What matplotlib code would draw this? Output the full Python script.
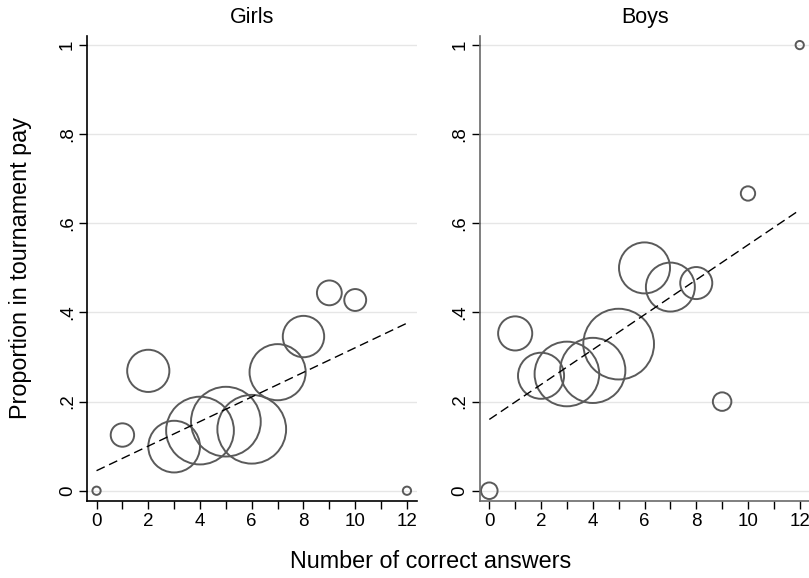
import matplotlib
matplotlib.use("Agg")
import matplotlib.pyplot as plt
import numpy as np

plt.rcParams["font.family"] = ["Liberation Sans", "DejaVu Sans"]

# number of correct answers (x), share choosing tournament pay (y), group size (marker weight)
girls_correct = [0, 1, 2, 3, 4, 5, 6, 7, 8, 9, 10, 12]
girls_share = [0.0, 0.125, 0.269, 0.099, 0.135, 0.155, 0.138, 0.266, 0.346, 0.444, 0.428, 0.0]
girls_count = [1, 8, 26, 39, 67, 71, 69, 46, 25, 9, 7, 1]
girls_fit = [0.045, 0.376]  # fitted line at x=0 and x=12

boys_correct = [0, 1, 2, 3, 4, 5, 6, 7, 8, 9, 10, 12]
boys_share = [0.0, 0.353, 0.258, 0.262, 0.27, 0.329, 0.50, 0.457, 0.466, 0.2, 0.667, 1.0]
boys_count = [4, 17, 31, 61, 62, 73, 38, 35, 15, 5, 3, 1]
boys_fit = [0.160, 0.630]

fit_x = [0, 12]
y_ticks = [0, 0.2, 0.4, 0.6, 0.8, 1.0]
y_tick_labels = ["0", ".2", ".4", ".6", ".8", "1"]
x_ticks = [0, 2, 4, 6, 8, 10, 12]

fig = plt.figure(figsize=(8.09, 5.78), dpi=100)
ax_g = fig.add_axes([0.1075, 0.1337, 0.408, 0.8045])
ax_b = fig.add_axes([0.593, 0.1337, 0.408, 0.8045])

panels = [
    (ax_g, "Girls", girls_correct, girls_share, girls_count, girls_fit, "black"),
    (ax_b, "Boys", boys_correct, boys_share, boys_count, boys_fit, "#6a6a6a"),
]

for ax, title, xs, ys, ns, fit, spine_color in panels:
    for yt in y_ticks:
        ax.axhline(yt, color="#e6e6e6", lw=1.0, zorder=0)
    sizes = 35.5 * np.array(ns)
    ax.scatter(xs, ys, s=sizes, facecolors="none", edgecolors="#5a5a5a",
               linewidths=1.4, zorder=2)
    ax.plot(fit_x, fit, color="black", lw=1.0, ls=(0, (6.5, 3.5)), zorder=3)

    ax.set_xlim(-0.37, 12.39)
    ax.set_ylim(-0.0224, 1.021)
    ax.set_xticks(x_ticks)
    ax.set_xticks(range(0, 13), minor=True)
    ax.set_yticks(y_ticks)
    ax.set_yticklabels(y_tick_labels, rotation=90, va="center")
    ax.tick_params(axis="both", which="both", direction="out", length=6,
                   width=1.0, labelsize=13.5, pad=3)
    ax.tick_params(axis="y", pad=2)
    ax.tick_params(axis="x", which="minor", length=6)
    for side in ("top", "right"):
        ax.spines[side].set_visible(False)
    for side in ("left", "bottom"):
        ax.spines[side].set_color(spine_color)
        ax.spines[side].set_linewidth(1.2)
    ax.set_title(title, fontsize=15.5, pad=9)

fig.text(0.025, 0.536, "Proportion in tournament pay", rotation=90,
         ha="center", va="center", fontsize=16.8)
fig.text(0.532, 0.028, "Number of correct answers", ha="center", va="center",
         fontsize=16.8)

fig.savefig("out.png", dpi=100)
